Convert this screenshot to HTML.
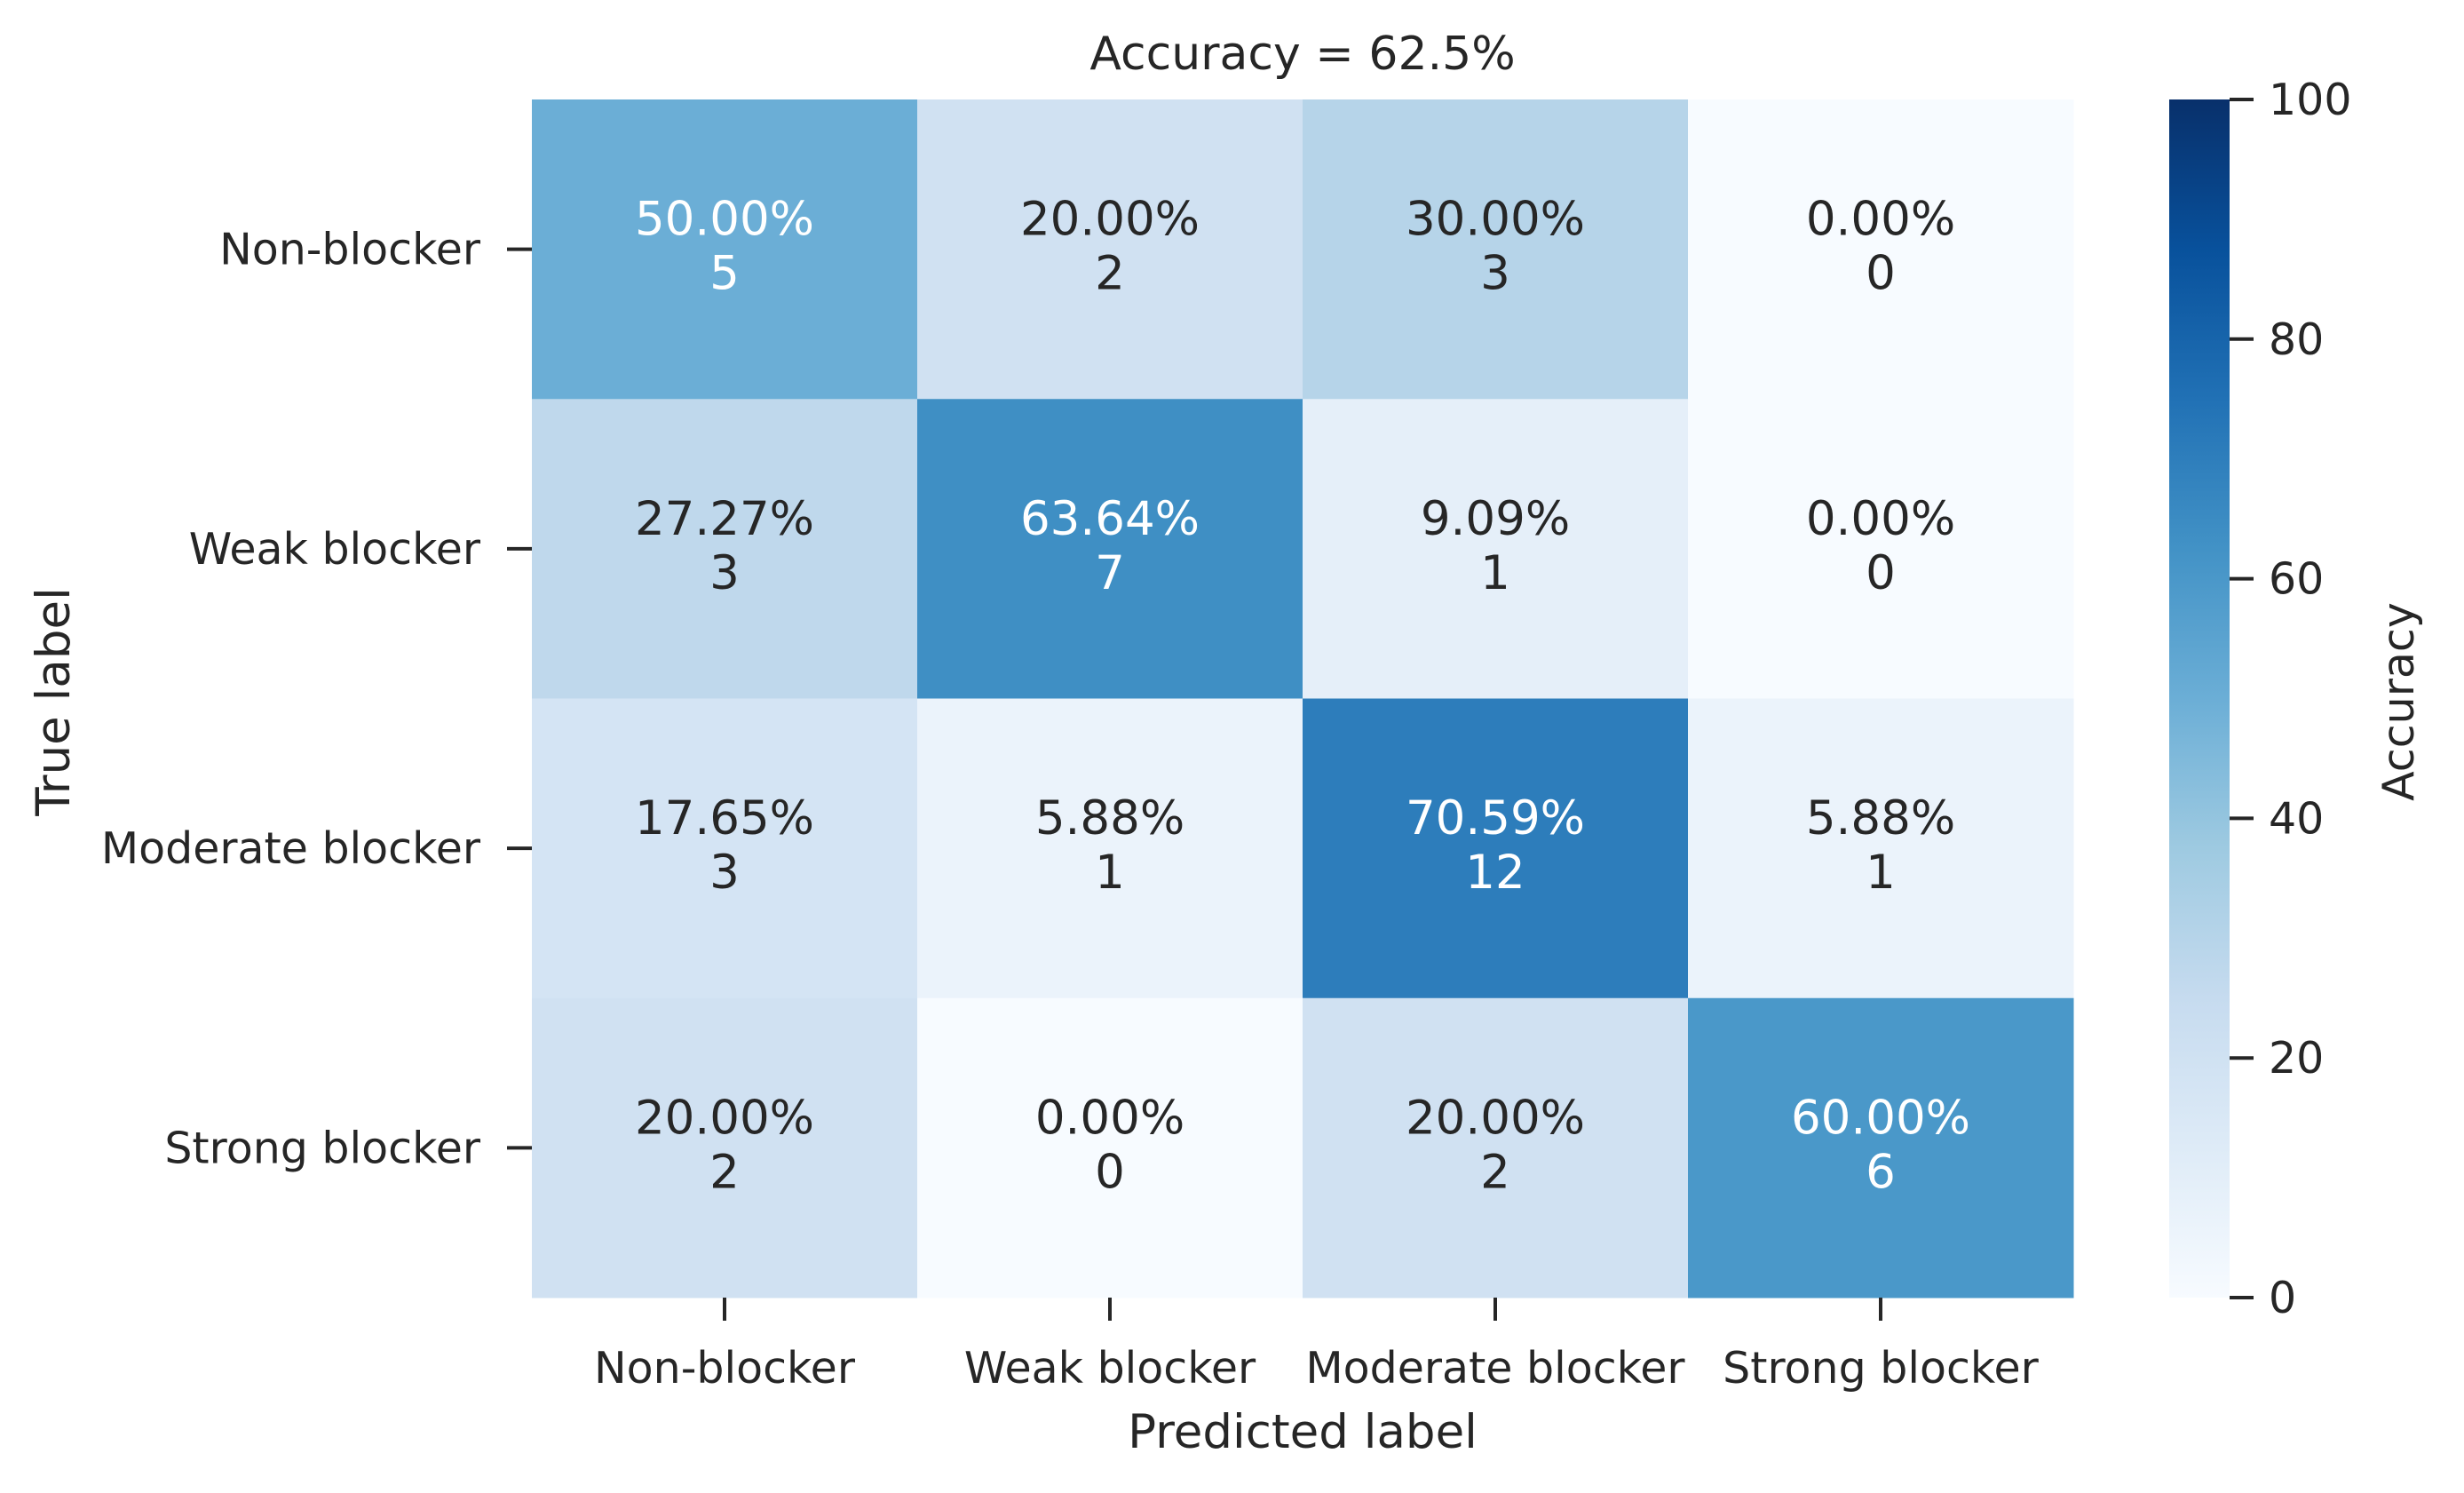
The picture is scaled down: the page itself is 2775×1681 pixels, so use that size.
<!DOCTYPE html>
<html><head><meta charset="utf-8">
<style>
html,body{margin:0;padding:0;background:#fff;}
svg{display:block;font-family:"DejaVu Sans","Liberation Sans",sans-serif;}
</style></head>
<body>
<svg id="chart" width="2775" height="1681" viewBox="0 0 2775 1681" xmlns="http://www.w3.org/2000/svg">
<defs>
<linearGradient id="blues" x1="0" y1="1" x2="0" y2="0">
<stop offset="0" stop-color="#f7fbff"/><stop offset="0.125" stop-color="#deebf7"/><stop offset="0.25" stop-color="#c6dbef"/><stop offset="0.375" stop-color="#9ecae1"/><stop offset="0.5" stop-color="#6baed6"/><stop offset="0.625" stop-color="#4292c6"/><stop offset="0.75" stop-color="#2171b5"/><stop offset="0.875" stop-color="#08519c"/><stop offset="1" stop-color="#08306b"/>
</linearGradient>
</defs>
<text x="1467" y="78" font-size="52" text-anchor="middle" fill="#262626">Accuracy = 62.5%</text>
<g id="cells"></g>
<g id="axes"></g>
<rect x="2443" y="112" width="68" height="1349" fill="url(#blues)"/>
<g id="cbar"></g>
<text x="1467" y="1630" font-size="53" text-anchor="middle" fill="#262626">Predicted label</text>
<text transform="translate(78,790) rotate(-90)" font-size="53" text-anchor="middle" fill="#262626">True label</text>
<text transform="translate(2718,790) rotate(-90)" font-size="49" text-anchor="middle" fill="#262626">Accuracy</text>
</svg>
<script>
const categories = ["Non-blocker","Weak blocker","Moderate blocker","Strong blocker"];
const percentRow0 = [50.00,20.00,30.00,0.00];
const percentRow1 = [27.27,63.64,9.09,0.00];
const percentRow2 = [17.65,5.88,70.59,5.88];
const percentRow3 = [20.00,0.00,20.00,60.00];
const countRow0 = [5,2,3,0];
const countRow1 = [3,7,1,0];
const countRow2 = [3,1,12,1];
const countRow3 = [2,0,2,6];
const cbarTicks = [0,20,40,60,80,100];
const percents = [percentRow0,percentRow1,percentRow2,percentRow3];
const counts = [countRow0,countRow1,countRow2,countRow3];

const NS="http://www.w3.org/2000/svg";
const X0=599,X1=2335,Y0=112,Y1=1461;
const cw=(X1-X0)/categories.length, ch=(Y1-Y0)/categories.length;
const xPos=i=>X0+i*cw, yPos=i=>Y0+i*ch;
const cbY=v=>Y1-(v/100)*(Y1-Y0);
const stops=[[0,[247,251,255]],[0.125,[222,235,247]],[0.25,[198,219,239]],[0.375,[158,202,225]],[0.5,[107,174,214]],[0.625,[66,146,198]],[0.75,[33,113,181]],[0.875,[8,81,156]],[1,[8,48,107]]];
function blues(v){const t=Math.max(0,Math.min(1,v/100));for(let i=1;i<stops.length;i++){if(t<=stops[i][0]){const a=stops[i-1],b=stops[i];const f=(t-a[0])/(b[0]-a[0]);const c=a[1].map((x,k)=>Math.round(x+(b[1][k]-x)*f));return `rgb(${c.join(',')})`;}}return 'rgb(8,48,107)';}
function mk(tag,attrs,parent){const e=document.createElementNS(NS,tag);for(const k in attrs)e.setAttribute(k,attrs[k]);parent.appendChild(e);return e;}
const cells=document.getElementById('cells'), axes=document.getElementById('axes'), cbar=document.getElementById('cbar');
for(let r=0;r<categories.length;r++){for(let c=0;c<categories.length;c++){
 const v=percents[r][c];
 const rect=mk('rect',{x:xPos(c),y:yPos(r),width:cw+0.5,height:ch+0.5,fill:blues(v)},cells);
 
 
 const col=v>40?'#ffffff':'#262626';
 const cx=xPos(c)+cw/2, cy=yPos(r)+ch/2;
 const t1=mk('text',{x:cx,y:cy-16,'font-size':53,'text-anchor':'middle',fill:col},cells);
 t1.textContent=v.toFixed(2)+'%';
 
 
 const t2=mk('text',{x:cx,y:cy+45,'font-size':53,'text-anchor':'middle',fill:col},cells);
 t2.textContent=String(counts[r][c]);
 
 
}}
categories.forEach((name,i)=>{
 const cx=xPos(i)+cw/2, cy=yPos(i)+ch/2;
 const xt=mk('line',{x1:cx,y1:Y1,x2:cx,y2:Y1+26,stroke:'#262626','stroke-width':4},axes);
 
 
 const xl=mk('text',{x:cx,y:1557,'font-size':49,'text-anchor':'middle',fill:'#262626'},axes);
 xl.textContent=name;
 
 
 const yt=mk('line',{x1:X0-28,y1:cy,x2:X0,y2:cy,stroke:'#262626','stroke-width':4},axes);
 
 
 const yl=mk('text',{x:541,y:cy+17,'font-size':49,'text-anchor':'end',fill:'#262626'},axes);
 yl.textContent=name;
 
 
});
cbarTicks.forEach(v=>{
 const y=cbY(v);
 const tk=mk('line',{x1:2511,y1:y,x2:2538,y2:y,stroke:'#262626','stroke-width':4},cbar);
 
 
 const tl=mk('text',{x:2555,y:y+17,'font-size':49,fill:'#262626'},cbar);
 tl.textContent=String(v);
 
 
});
</script>
</body></html>
